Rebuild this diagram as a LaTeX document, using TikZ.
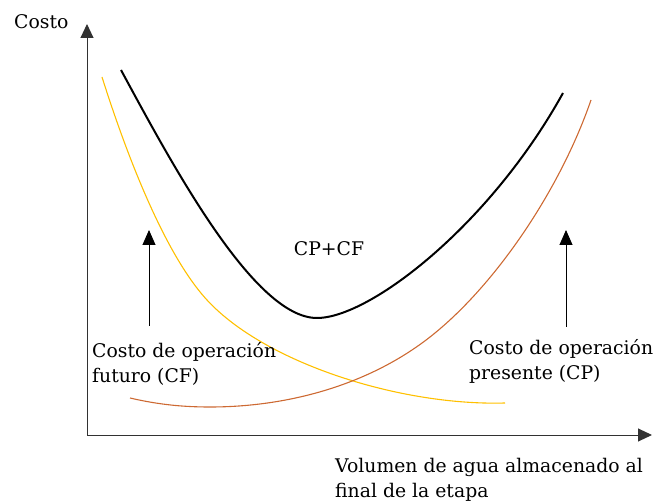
\documentclass[tikz,border=0pt]{standalone}
\usepackage{fontspec}
\setmainfont{DejaVu Serif}
\usetikzlibrary{arrows.meta}
\definecolor{cfyellow}{RGB}{255,192,0}
\definecolor{cporange}{RGB}{205,105,50}
\definecolor{axisgray}{RGB}{50,50,50}
\tikzset{
  axisline/.style={draw=axisgray, line width=1pt, -{Triangle[width=13pt,length=14pt]}},
  pointer/.style={draw=black, line width=0.9pt, -{Triangle[width=13pt,length=15pt]}},
  lbl/.style={inner sep=0pt, font=\fontsize{18.8}{25}\selectfont, align=left},
}
\begin{document}
\begin{tikzpicture}[x=1pt,y=-1pt]
\useasboundingbox (0,0) rectangle (656,502);
% axes
\coordinate (O) at (87,435);
\coordinate (Ytip) at (87,24);
\coordinate (Xtip) at (652,435);
\draw[axisline] (O) -- (Ytip);
\draw[axisline] (O) -- (Xtip);
% curves
\draw[cfyellow, line width=1.1pt] (102,77) .. controls (120,134) and (160,249) .. (207,300)
  .. controls (265,363) and (400,406) .. (505,403);
\draw[cporange, line width=1.1pt] (130,398) .. controls (160,405) and (185,407) .. (210,407)
  .. controls (290,407) and (370,384) .. (430,337)
  .. controls (495,286) and (560,190) .. (591,100);
\draw[black, line width=2pt] (121,70) .. controls (175,170) and (255,318) .. (317,318)
  .. controls (370,318) and (490,225) .. (563,93);
% labels
\node[lbl, anchor=base west] (costo) at (14,29) {Costo};
\node[lbl, anchor=base] (cpcf) at (329,256) {CP+CF};
\node[lbl, anchor=base west] (cf) at (92,383) {Costo de operación\\futuro (CF)};
\node[lbl, anchor=base west] (cp) at (469,380) {Costo de operación\\presente (CP)};
\node[lbl, anchor=base west] (vol) at (335,497) {Volumen de agua almacenado al\\final de la etapa};
% pointers
\coordinate (cftail) at (149,326);
\coordinate (cfhead) at (149,230);
\coordinate (cptail) at (566,327);
\coordinate (cphead) at (566,230);
\draw[pointer] (cftail) -- (cfhead);
\draw[pointer] (cptail) -- (cphead);
\end{tikzpicture}
\end{document}
